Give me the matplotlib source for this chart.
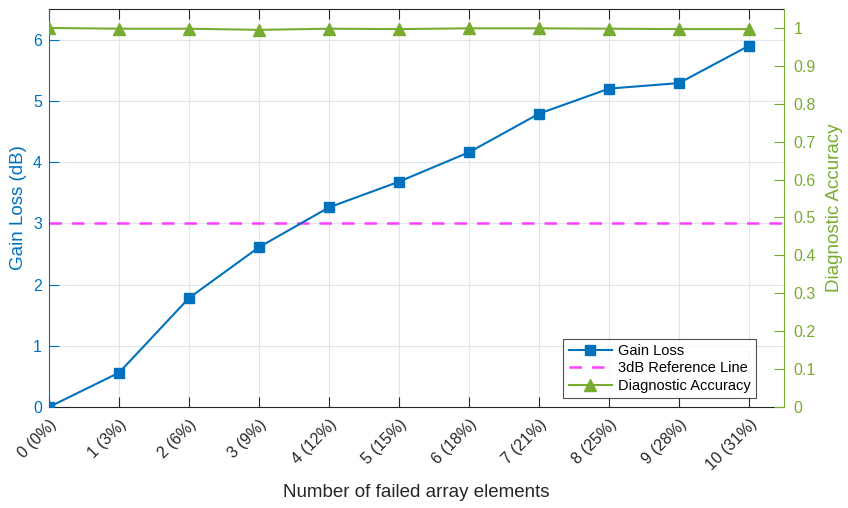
import matplotlib
matplotlib.use("Agg")
import matplotlib.pyplot as plt

plt.rcParams['font.family'] = ['Liberation Sans', 'DejaVu Sans']

failed = [0, 1, 2, 3, 4, 5, 6, 7, 8, 9, 10]
tick_labels = ["0 (0%)", "1 (3%)", "2 (6%)", "3 (9%)", "4 (12%)", "5 (15%)",
               "6 (18%)", "7 (21%)", "8 (25%)", "9 (28%)", "10 (31%)"]
gain_loss = [0.0, 0.56, 1.78, 2.61, 3.26, 3.68, 4.16, 4.79, 5.20, 5.29, 5.90]
accuracy = [1.0, 0.998, 0.998, 0.995, 0.998, 0.997, 0.999, 0.999, 0.998, 0.997, 0.997]
ref_db = 3

blue = (0, 0.447, 0.741)
green = (0.466, 0.674, 0.188)
magenta = (1.0, 0.25, 1.0)

fig = plt.figure(figsize=(8.48, 5.08), dpi=100)
ax = fig.add_axes([49/848, 1-407/508, (784-49)/848, (407-9)/508])
ax2 = ax.twinx()

l1, = ax.plot(failed, gain_loss, '-s', color=blue, lw=1.5, ms=7,
              markerfacecolor=blue, label='Gain Loss', zorder=3)
l2 = ax.axhline(ref_db, color=magenta, ls=(0, (5, 4)), lw=1.8,
                label='3dB Reference Line', zorder=2)
l3, = ax2.plot(failed, accuracy, '-^', color=green, lw=1.5, ms=9,
               markerfacecolor=green, label='Diagnostic Accuracy', zorder=3)

ax.set_xlim(0, 10.5)
ax.set_ylim(0, 6.5)
ax2.set_ylim(0, 1.05)
ax.set_xticks(failed)
ax.set_xticklabels(tick_labels, rotation=45, ha='right', rotation_mode='anchor',
                   fontsize=11.5, color='#262626')
ax.set_yticks([0, 1, 2, 3, 4, 5, 6])
ax2.set_yticks([i/10 for i in range(11)])
ax2.set_yticklabels(['0', '0.1', '0.2', '0.3', '0.4', '0.5', '0.6', '0.7', '0.8', '0.9', '1'])

ax.grid(True, color='#dde6ee', lw=0.8)
ax.set_axisbelow(True)

ax.tick_params(axis='y', direction='in', colors=blue, labelsize=11.5, length=7, pad=5)
ax.tick_params(axis='x', direction='in', top=True, length=7, color='#262626', pad=7)
ax2.tick_params(axis='y', direction='in', colors=green, labelsize=11.5, length=7, pad=7)

ax.spines['left'].set_color(blue)
ax.spines['bottom'].set_color('#262626')
ax.spines['top'].set_color('#262626')
ax2.spines['right'].set_color(green)
ax2.spines['left'].set_visible(False)
ax.spines['right'].set_visible(False)
ax2.spines['top'].set_visible(False)
ax2.spines['bottom'].set_visible(False)

ax.set_ylabel('Gain Loss (dB)', color=blue, fontsize=13.5, labelpad=4)
ax2.set_ylabel('Diagnostic Accuracy', color=green, fontsize=13.5, labelpad=7)
ax.set_xlabel('Number of failed array elements', color='#262626', fontsize=13.5,
              labelpad=8)

leg = ax2.legend(handles=[l1, l2, l3], loc='lower right',
                 bbox_to_anchor=(756/848, 1-398/508), bbox_transform=fig.transFigure,
                 fontsize=10.5, frameon=True, fancybox=False, borderpad=0.35,
                 labelspacing=0.25, handlelength=3.0, handletextpad=0.4,
                 borderaxespad=0)
leg.get_frame().set_edgecolor('#262626')
leg.get_frame().set_linewidth(0.8)

fig.savefig('out.png', dpi=100)
